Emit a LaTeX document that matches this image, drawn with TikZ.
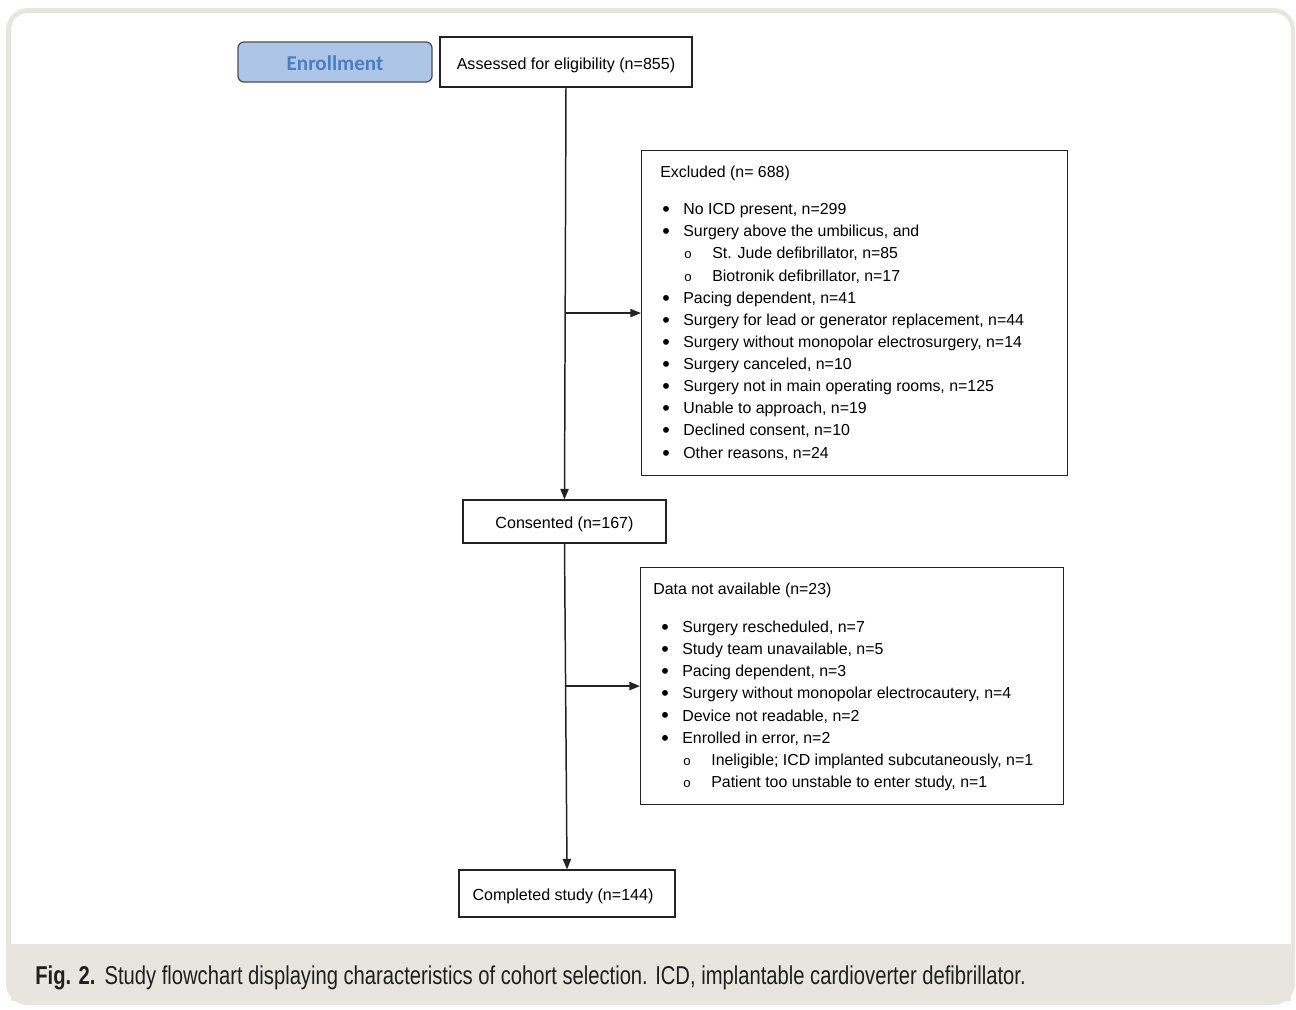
\documentclass[tikz,border=0pt]{standalone}
\usepackage{fontspec}
\usetikzlibrary{arrows.meta}
\setmainfont{Liberation Sans}
\newfontfamily\enrfont{Carlito}
\newfontfamily\capfont[FakeStretch=0.782]{Liberation Sans}

\definecolor{framebeige}{RGB}{232,229,223}
\definecolor{enrfill}{RGB}{173,197,231}
\definecolor{enrtext}{RGB}{74,126,193}
\definecolor{linegray}{RGB}{35,35,35}

\newlength\px
\setlength\px{0.02cm}
\newcommand\bitem[1]{\hspace*{8\px}\makebox[21\px][l]{\raisebox{-1.1pt}{\scalebox{1.35}{\textbullet}}}#1}
\newcommand\citem[1]{\hspace*{30\px}\makebox[28\px][l]{\fontsize{7.5}{7}\selectfont o}#1}
\newcommand\lowtext[2][3]{\raisebox{-#1\px}[\height][\depth]{#2}}

\tikzset{
  flowbox/.style={draw=linegray, line width=0.65pt, inner sep=0pt, font=\fontsize{9.15}{11}\selectfont},
  enrbox/.style={draw=linegray!80, fill=enrfill, line width=0.75pt, rounded corners=6\px, inner sep=0pt,
    font=\enrfont\bfseries\fontsize{12}{14}\selectfont, text=enrtext},
  listtext/.style={anchor=north west, inner sep=0pt, align=left, font=\fontsize{9.05}{12.6}\selectfont},
  flowline/.style={draw=linegray, line width=0.85pt, -{Triangle[length=6pt,width=4.7pt]}}
}

\begin{document}
\begin{tikzpicture}[x=0.02cm, y=-0.02cm]
    \useasboundingbox (0,0) rectangle (1296,1009);
    % frame and caption band
    \fill[framebeige, rounded corners=22\px] (6,8) rectangle (1295,1005);
    \fill[white, rounded corners=17\px] (11,13) rectangle (1291,970);
    \fill[framebeige] (11,944) rectangle (1291,1001);
    \node[anchor=west, inner sep=0pt, font=\capfont\fontsize{14.7}{16}\selectfont, text=black!88] (cap) at (35,978)
      {\textbf{Fig. 2.}\hspace{9\px}Study flowchart displaying characteristics of cohort selection. ICD, implantable cardioverter defibrillator.};

    % top row
    \node[enrbox, minimum width=194\px, minimum height=40\px] (enroll) at (335,62) {\lowtext[1]{Enrollment}};
    \node[flowbox, minimum width=252\px, minimum height=50\px] (assess) at (566,62) {\lowtext{Assessed for eligibility (n=855)}};

    % excluded box
    \node[flowbox, anchor=north west, minimum width=426\px, minimum height=325\px] (excl) at (641,150) {};
    \node[listtext] (excl-txt) at ([shift={(13,16)}]excl.north west) {%
      \hspace*{6\px}Excluded (n= 688)\\[8.3pt]
      \bitem{No ICD present, n=299}\\
      \bitem{Surgery above the umbilicus, and}\\
      \citem{St. Jude defibrillator, n=85}\\
      \citem{Biotronik defibrillator, n=17}\\
      \bitem{Pacing dependent, n=41}\\
      \bitem{Surgery for lead or generator replacement, n=44}\\
      \bitem{Surgery without monopolar electrosurgery, n=14}\\
      \bitem{Surgery canceled, n=10}\\
      \bitem{Surgery not in main operating rooms, n=125}\\
      \bitem{Unable to approach, n=19}\\
      \bitem{Declined consent, n=10}\\
      \bitem{Other reasons, n=24}};

    % consented
    \node[flowbox, minimum width=203\px, minimum height=43\px] (consent) at (564.5,521.5) {\lowtext{Consented (n=167)}};

    % data not available box
    \node[flowbox, anchor=north west, minimum width=423\px, minimum height=237\px] (data) at (640,567) {};
    \node[listtext] (data-txt) at ([shift={(13,16)}]data.north west) {%
      Data not available (n=23)\\[8.8pt]
      \bitem{Surgery rescheduled, n=7}\\
      \bitem{Study team unavailable, n=5}\\
      \bitem{Pacing dependent, n=3}\\
      \bitem{Surgery without monopolar electrocautery, n=4}\\
      \bitem{Device not readable, n=2}\\
      \bitem{Enrolled in error, n=2}\\
      \citem{Ineligible; ICD implanted subcutaneously, n=1}\\
      \citem{Patient too unstable to enter study, n=1}};

    % completed
    \node[flowbox, minimum width=216\px, minimum height=47\px] (complete) at (567,893.5) {\lowtext{Completed study (n=144)}\hspace*{8\px}};

    % connectors
    \draw[flowline] (assess.south) -- (consent.north);
    \draw[flowline] (assess.south |- excl.west) -- (excl.west);
    \draw[flowline] (consent.south) -- (complete.north);
    \draw[flowline] (consent.south |- data.west) -- (data.west);
\end{tikzpicture}
\end{document}
